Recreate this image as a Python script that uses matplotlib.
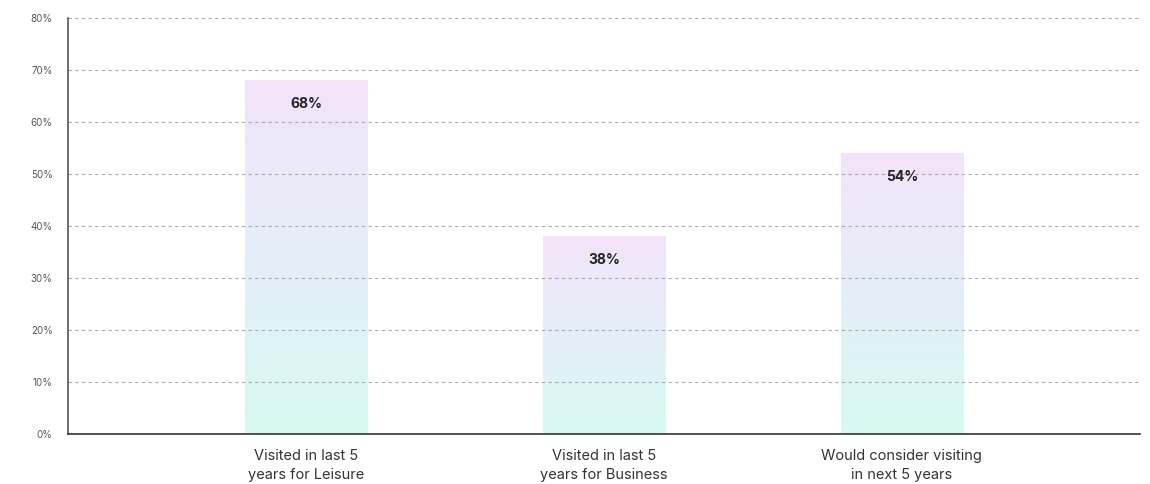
import matplotlib
matplotlib.use("Agg")
import matplotlib.pyplot as plt
import numpy as np
from matplotlib.colors import LinearSegmentedColormap

categories = ["Visited in last 5\nyears for Leisure",
              "Visited in last 5\nyears for Business",
              "Would consider visiting\nin next 5 years"]
values = [68, 38, 54]
value_labels = ["68%", "38%", "54%"]
yticks = [0, 10, 20, 30, 40, 50, 60, 70, 80]
ytick_labels = [f"{t}%" for t in yticks]

plt.rcParams['font.family'] = ['Inter', 'DejaVu Sans']

fig = plt.figure(figsize=(11.5, 4.84), dpi=100)
ax = fig.add_axes([68/1150, 50/484, (1140-68)/1150, (434-18)/484])

cmap = LinearSegmentedColormap.from_list("g", ["#d8f9f2", "#e4eef8", "#f3e3fa"])
grad = np.linspace(0, 1, 256).reshape(-1, 1)
width = 0.41
x = np.arange(len(categories))
bars = ax.bar(x, values, width=width, color="none", edgecolor="none", zorder=1)
for b in bars:
    x0, y0, w, h = b.get_x(), b.get_y(), b.get_width(), b.get_height()
    im = ax.imshow(grad, cmap=cmap, aspect="auto", origin="lower",
                   extent=[x0, x0 + w, y0, y0 + h], zorder=1, interpolation="bilinear")
    im.set_clip_path(b)

for xi, v, lab in zip(x, values, value_labels):
    ax.annotate(lab, (xi, v), xytext=(0, -17), textcoords="offset points",
                ha="center", va="center", fontsize=10, fontweight="bold", color="#222222", zorder=4)

ax.set_xlim(-0.8, 2.8)
ax.set_ylim(0, 80)
ax.set_yticks(yticks)
ax.set_yticklabels(ytick_labels)
ax.set_xticks(x)
ax.set_xticklabels(categories, fontsize=10.5, color="#333333", linespacing=1.45)
ax.tick_params(axis="y", length=0, labelsize=7, labelcolor="#555555", pad=11)
ax.tick_params(axis="x", length=0, pad=11)
ax.yaxis.grid(True, linestyle=(0, (3, 3)), color="#aaaaaa", linewidth=0.8, zorder=3)
ax.set_axisbelow(False)
for s in ["top", "right"]:
    ax.spines[s].set_visible(False)
ax.spines["left"].set_color("#555555")
ax.spines["left"].set_linewidth(1.2)
ax.spines["bottom"].set_color("#333333")
ax.spines["bottom"].set_linewidth(1.2)
ax.spines["left"].set_zorder(5)
ax.spines["bottom"].set_zorder(5)

fig.savefig("out.png", dpi=100, facecolor="white")
